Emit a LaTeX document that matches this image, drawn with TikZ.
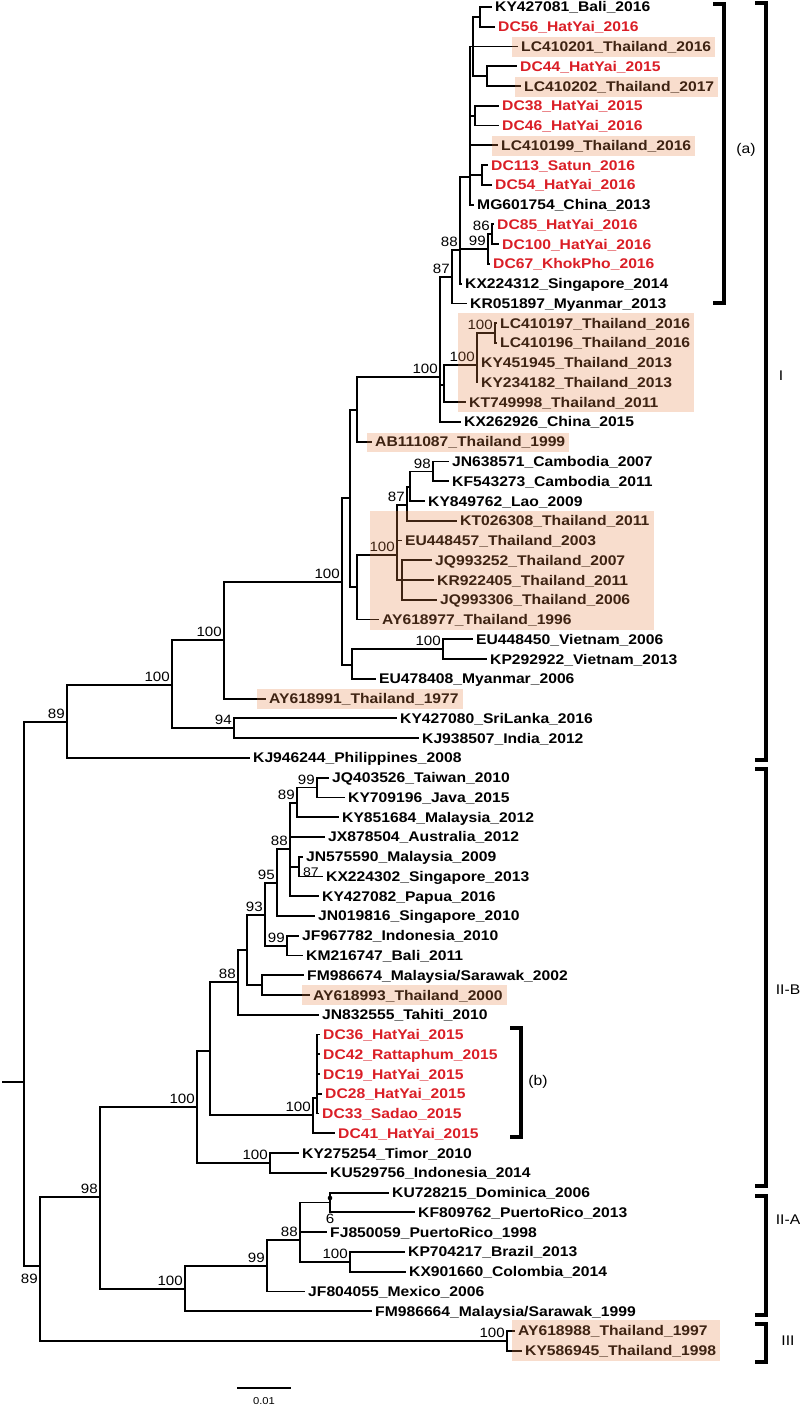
\documentclass[tikz,border=0pt]{standalone}
\usepackage{fontspec}
\newfontfamily\sfx{Liberation Sans}[FakeStretch=1.12]
\usetikzlibrary{calc}
\definecolor{dcred}{RGB}{218,30,38}
\definecolor{hlc}{RGB}{230,130,70}
\newcommand\tleaf[5][]{%
  \coordinate (#2) at (#4,{7+19.76*(#3-1)});
  \node[lab,#1] (#2t) at ([xshift=3pt,yshift=-5pt]#2) {#5};}
\newcommand\hlbox[4]{\fill[hl] let \p1=(#2.east) in (#1,#3) rectangle (\x1+4pt,-#4pt);}
\begin{document}
\begin{tikzpicture}[x=1pt,y=-1pt,
  br/.style={line width=1.8pt, line join=miter},
  lab/.style={inner sep=0pt, anchor=base west, font=\sfx\bfseries\fontsize{14}{14}\selectfont},
  dc/.style={text=dcred},
  bs/.style={inner sep=0pt, anchor=south east, font=\sfx\fontsize{13.5}{13.5}\selectfont},
  hl/.style={fill=hlc, fill opacity=0.27, draw=none},
  brk/.style={line width=3.2pt, line join=miter},
  cl/.style={inner sep=0pt, font=\sfx\fontsize{14}{14}\selectfont}]
\useasboundingbox (0,0) rectangle (800,1408);
% ---------- leaves
\tleaf{L1}{1}{492}{KY427081\_Bali\_2016}
\tleaf[dc]{L2}{2}{495}{DC56\_HatYai\_2016}
\tleaf{L3}{3}{518}{LC410201\_Thailand\_2016}
\tleaf[dc]{L4}{4}{517}{DC44\_HatYai\_2015}
\tleaf{L5}{5}{521}{LC410202\_Thailand\_2017}
\tleaf[dc]{L6}{6}{499}{DC38\_HatYai\_2015}
\tleaf[dc]{L7}{7}{499}{DC46\_HatYai\_2016}
\tleaf{L8}{8}{498}{LC410199\_Thailand\_2016}
\tleaf[dc]{L9}{9}{488}{DC113\_Satun\_2016}
\tleaf[dc]{L10}{10}{492}{DC54\_HatYai\_2016}
\tleaf{L11}{11}{474}{MG601754\_China\_2013}
\tleaf[dc]{L12}{12}{494}{DC85\_HatYai\_2016}
\tleaf[dc]{L13}{13}{499}{DC100\_HatYai\_2016}
\tleaf[dc]{L14}{14}{490}{DC67\_KhokPho\_2016}
\tleaf{L15}{15}{462}{KX224312\_Singapore\_2014}
\tleaf{L16}{16}{467}{KR051897\_Myanmar\_2013}
\tleaf{L17}{17}{497}{LC410197\_Thailand\_2016}
\tleaf{L18}{18}{497}{LC410196\_Thailand\_2016}
\tleaf{L19}{19}{478}{KY451945\_Thailand\_2013}
\tleaf{L20}{20}{478}{KY234182\_Thailand\_2013}
\tleaf{L21}{21}{466}{KT749998\_Thailand\_2011}
\tleaf{L22}{22}{461}{KX262926\_China\_2015}
\tleaf{L23}{23}{372}{AB111087\_Thailand\_1999}
\tleaf{L24}{24}{449}{JN638571\_Cambodia\_2007}
\tleaf{L25}{25}{449}{KF543273\_Cambodia\_2011}
\tleaf{L26}{26}{425}{KY849762\_Lao\_2009}
\tleaf{L27}{27}{457}{KT026308\_Thailand\_2011}
\tleaf{L28}{28}{402}{EU448457\_Thailand\_2003}
\tleaf{L29}{29}{432}{JQ993252\_Thailand\_2007}
\tleaf{L30}{30}{434}{KR922405\_Thailand\_2011}
\tleaf{L31}{31}{437}{JQ993306\_Thailand\_2006}
\tleaf{L32}{32}{379}{AY618977\_Thailand\_1996}
\tleaf{L33}{33}{473}{EU448450\_Vietnam\_2006}
\tleaf{L34}{34}{487}{KP292922\_Vietnam\_2013}
\tleaf{L35}{35}{376}{EU478408\_Myanmar\_2006}
\tleaf{L36}{36}{266}{AY618991\_Thailand\_1977}
\tleaf{L37}{37}{397}{KY427080\_SriLanka\_2016}
\tleaf{L38}{38}{419}{KJ938507\_India\_2012}
\tleaf{L39}{39}{250}{KJ946244\_Philippines\_2008}
\tleaf{L40}{40}{329}{JQ403526\_Taiwan\_2010}
\tleaf{L41}{41}{345}{KY709196\_Java\_2015}
\tleaf{L42}{42}{339}{KY851684\_Malaysia\_2012}
\tleaf{L43}{43}{325}{JX878504\_Australia\_2012}
\tleaf{L44}{44}{303}{JN575590\_Malaysia\_2009}
\tleaf{L45}{45}{323}{KX224302\_Singapore\_2013}
\tleaf{L46}{46}{319}{KY427082\_Papua\_2016}
\tleaf{L47}{47}{315}{JN019816\_Singapore\_2010}
\tleaf{L48}{48}{299}{JF967782\_Indonesia\_2010}
\tleaf{L49}{49}{303}{KM216747\_Bali\_2011}
\tleaf{L50}{50}{304}{FM986674\_Malaysia/Sarawak\_2002}
\tleaf{L51}{51}{310}{AY618993\_Thailand\_2000}
\tleaf{L52}{52}{319}{JN832555\_Tahiti\_2010}
\tleaf[dc]{L53}{53}{320}{DC36\_HatYai\_2015}
\tleaf[dc]{L54}{54}{320}{DC42\_Rattaphum\_2015}
\tleaf[dc]{L55}{55}{320}{DC19\_HatYai\_2015}
\tleaf[dc]{L56}{56}{322}{DC28\_HatYai\_2015}
\tleaf[dc]{L57}{57}{319}{DC33\_Sadao\_2015}
\tleaf[dc]{L58}{58}{335}{DC41\_HatYai\_2015}
\tleaf{L59}{59}{299}{KY275254\_Timor\_2010}
\tleaf{L60}{60}{327}{KU529756\_Indonesia\_2014}
\tleaf{L61}{61}{389}{KU728215\_Dominica\_2006}
\tleaf{L62}{62}{415}{KF809762\_PuertoRico\_2013}
\tleaf{L63}{63}{327}{FJ850059\_PuertoRico\_1998}
\tleaf{L64}{64}{405}{KP704217\_Brazil\_2013}
\tleaf{L65}{65}{406}{KX901660\_Colombia\_2014}
\tleaf{L66}{66}{305}{JF804055\_Mexico\_2006}
\tleaf{L67}{67}{372}{FM986664\_Malaysia/Sarawak\_1999}
\tleaf{L68}{68}{515}{AY618988\_Thailand\_1997}
\tleaf{L69}{69}{522}{KY586945\_Thailand\_1998}
% ---------- internal nodes
\coordinate (X1) at (480,16.9);
\coordinate (X2) at (487,76.2);
\coordinate (X3) at (473,46.5);
\coordinate (X4) at (475,115.7);
\coordinate (X5) at (482,175);
\coordinate (Nbig) at (470,177);
\coordinate (N86) at (492,234.2);
\coordinate (N99) at (488,249);
\coordinate (N88) at (460,250);
\coordinate (N87) at (452,277);
\coordinate (N100p) at (495,333);
\coordinate (N100b) at (477,365);
\coordinate (N445) at (444,385);
\coordinate (N440) at (440,377);
\coordinate (NC) at (357,410);
\coordinate (N98b) at (433,471.4);
\coordinate (N87b) at (410,487);
\coordinate (N407) at (407,505);
\coordinate (NJQ) at (402,580);
\coordinate (N397) at (397,555);
\coordinate (ND) at (357,587);
\coordinate (NB) at (350,498);
\coordinate (NV) at (443,649.2);
\coordinate (NE) at (352,665);
\coordinate (N100h) at (342,582);
\coordinate (N100g) at (224,640);
\coordinate (N94) at (234,728.3);
\coordinate (N100f) at (172,685);
\coordinate (N89) at (67,722);
\coordinate (N99c) at (317,787.5);
\coordinate (N89c) at (297,803);
\coordinate (N87c) at (299,866.6);
\coordinate (N88c) at (290,849);
\coordinate (N95) at (277,883);
\coordinate (N99b) at (287,945.6);
\coordinate (N93) at (265,915);
\coordinate (NFA) at (262,985);
\coordinate (N247) at (247,950);
\coordinate (N88d) at (238,982);
\coordinate (NDCc) at (317,1098);
\coordinate (NDC) at (313,1115);
\coordinate (N209) at (210,1051);
\coordinate (NT) at (270,1163);
\coordinate (N100e) at (197,1107);
\coordinate (N6) at (330,1202.5);
\coordinate (N100d) at (350,1261.8);
\coordinate (N88b) at (300,1240);
\coordinate (N99d) at (267,1266);
\coordinate (N100c) at (185,1289);
\coordinate (N98) at (100,1197);
\coordinate (N3) at (507,1341);
\coordinate (N89b) at (40,1266);
\coordinate (Root) at (24,1082);
\coordinate (R0) at (2,1082);
% ---------- branches
\foreach \p/\c in {Nbig/X3,Nbig/X4,Nbig/L8,Nbig/X5,Nbig/L11,X3/X1,X3/L3,X3/X2,
  X1/L1,X1/L2,X2/L4,X2/L5,X4/L6,X4/L7,X5/L9,X5/L10,N86/L12,N86/L13,N99/N86,N99/L14,
  N88/Nbig,N88/N99,N88/L15,N87/N88,N87/L16,N100p/L17,N100p/L18,N100b/N100p,N100b/L19,
  N100b/L20,N445/N100b,N445/L21,N440/N87,N440/N445,N440/L22,NC/N440,NC/L23,
  N98b/L24,N98b/L25,N87b/N98b,N87b/L26,N407/N87b,N407/L27,NJQ/L29,NJQ/L30,NJQ/L31,
  N397/N407,N397/L28,N397/NJQ,ND/N397,ND/L32,NB/NC,NB/ND,NV/L33,NV/L34,NE/NV,NE/L35,
  N100h/NB,N100h/NE,N100g/N100h,N100g/L36,N94/L37,N94/L38,N100f/N100g,N100f/N94,
  N89/N100f,N89/L39,N99c/L40,N99c/L41,N89c/N99c,N89c/L42,N87c/L44,N87c/L45,
  N88c/N89c,N88c/L43,N88c/N87c,N88c/L46,N95/N88c,N95/L47,N99b/L48,N99b/L49,
  N93/N95,N93/N99b,NFA/L50,NFA/L51,N247/N93,N247/NFA,N88d/N247,N88d/L52,
  NDCc/L53,NDCc/L54,NDCc/L55,NDCc/L56,NDCc/L57,NDC/NDCc,NDC/L58,N209/N88d,N209/NDC,
  NT/L59,NT/L60,N100e/N209,N100e/NT,N6/L61,N6/L62,N100d/L64,N100d/L65,
  N88b/N6,N88b/L63,N88b/N100d,N99d/N88b,N99d/L66,N100c/N99d,N100c/L67,
  N98/N100e,N98/N100c,N3/L68,N3/L69,N89b/N98,N89b/N3,Root/N89,Root/N89b}
  \draw[br] (\p) |- (\c);
\draw[br] (R0) -- (Root);
\coordinate (N6dot) at (330,1198);
\fill (N6dot) circle (2.3pt);
% ---------- bootstrap values
\foreach \n/\t in {N86/86,N99/99,N88/88,N87/87,N100p/100,N100b/100,N440/100,N98b/98,
  N407/87,N397/100,NV/100,N100h/100,N100g/100,N94/94,N100f/100,N89/89,
  N99c/99,N89c/89,N88c/88,N95/95,N99b/99,N93/93,N88d/88,NDC/100,NT/100,N100e/100,
  N100d/100,N88b/88,N99d/99,N100c/100,N98/98,N3/100}
  \node[bs] (b\n) at ([xshift=-2pt,yshift=3pt]\n) {\t};
\node[bs,anchor=north west,font=\sfx\fontsize{12.5}{12.5}\selectfont] (bN87c) at ([xshift=4pt,yshift=-0.5pt]N87c) {87};
\node[bs,anchor=north] (bN6) at ([yshift=-11pt]N6) {6};
\node[bs,anchor=north east] (bN89b) at ([xshift=-2pt,yshift=-8pt]N89b) {89};
% ---------- highlight boxes
\hlbox{512}{L3t}{37}{57}
\hlbox{515}{L5t}{77}{97}
\hlbox{492}{L8t}{136}{156}
\hlbox{458}{L17t}{313}{412}
\hlbox{367}{L23t}{433}{452}
\hlbox{370}{L27t}{511}{630}
\hlbox{257}{L36t}{689}{709}
\hlbox{302}{L51t}{985}{1005}
\hlbox{512}{L69t}{1320}{1361}
% ---------- brackets
\draw[brk] (713,4) -- (724,4) -- (724,303) -- (713,303);
\node[cl] (ca) at (746,150) {(a)};
\draw[brk] (755,3) -- (766,3) -- (766,760) -- (755,760);
\node[cl] (cI) at (781,376) {I};
\draw[brk] (755,769) -- (766,769) -- (766,1186) -- (755,1186);
\node[cl] (cIIB) at (788,990) {II-B};
\draw[brk] (755,1196) -- (766,1196) -- (766,1315) -- (755,1315);
\node[cl] (cIIA) at (788,1220) {II-A};
\draw[brk] (755,1324) -- (766,1324) -- (766,1362) -- (755,1362);
\node[cl] (cIII) at (788,1341) {III};
\draw[brk] (510,1028) -- (521,1028) -- (521,1137) -- (510,1137);
\node[cl] (cb) at (538,1082) {(b)};
% ---------- scale bar
\coordinate (sb1) at (237,1388);
\coordinate (sb2) at (291,1388);
\draw[line width=1.5pt] (sb1) -- (sb2);
\node[inner sep=0pt, font=\sfx\fontsize{10}{10}\selectfont] (sbt) at (264,1401) {0.01};
\end{tikzpicture}
\end{document}
